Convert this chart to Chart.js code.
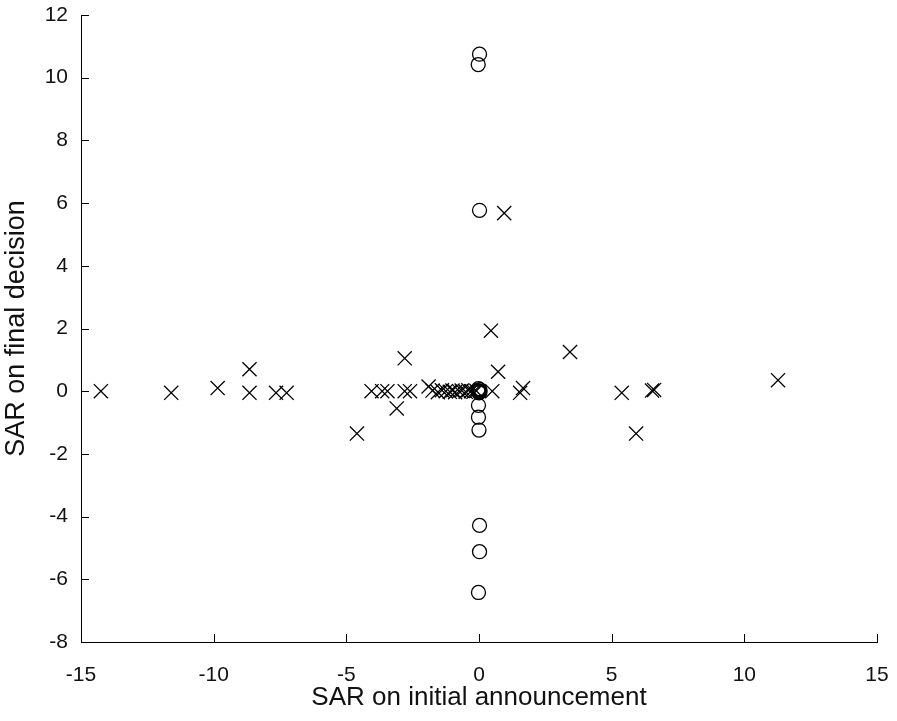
<!DOCTYPE html>
<html>
  <head>
    <title>SAR scatter</title>
    <script src="https://cdn.jsdelivr.net/npm/chart.js@4.4.0/dist/chart.umd.min.js"></script>
    <style>
      body { margin: 0; background: #fff; }
    </style>
  </head>
  <body>
    <canvas id="myChart" width="897" height="721"></canvas>
    <script>
      // crosses (x markers)
      const crossX = [-14.25, -11.6, -9.85, -8.65, -8.65, -7.65, -7.25,
        -4.6, -4.05, -3.65, -3.45, -3.1, -2.8, -2.8, -2.6, -1.9,
        -1.75, -1.55, -1.4, -1.25, -1.1, -1.0, -0.9, -0.75, -0.65, -0.5, -0.4, -0.3, -0.2, -0.1,
        0.45, 0.5, 0.72, 0.95, 1.55, 1.66, 3.43, 5.38, 5.92, 6.52, 6.6, 11.27];
      const crossY = [0.0, -0.05, 0.1, 0.7, -0.05, -0.05, -0.05,
        -1.35, 0.0, 0.0, 0.0, -0.55, 1.05, 0.0, 0.0, 0.15,
        0.02, -0.03, 0.03, 0.0, -0.02, 0.02, -0.03, 0.0, 0.02, -0.02, 0.03, 0.0, -0.02, 0.01,
        1.93, 0.0, 0.62, 5.68, -0.05, 0.1, 1.25, -0.05, -1.35, 0.02, 0.04, 0.35];

      // circles
      const circleX = [0.02, -0.03, 0.02, -0.02, 0.03, -0.04, 0.04, 0.0, -0.01, -0.02, -0.02, 0.0, 0.02, 0.02, -0.02];
      const circleY = [10.75, 10.42, 5.77, 0.08, 0.05, 0.02, -0.02, -0.05, 0.0, -0.45, -0.83, -1.24, -4.28, -5.12, -6.42];

      const xTicks = [-15, -10, -5, 0, 5, 10, 15];
      const yTicks = [-8, -6, -4, -2, 0, 2, 4, 6, 8, 10, 12];

      const toPoints = (xs, ys) => xs.map((x, i) => ({ x: x, y: ys[i] }));

      // tick marks pointing into the plot
      const innerTicks = {
        id: 'innerTicks',
        afterDraw(chart) {
          const ctx = chart.ctx;
          const area = chart.chartArea;
          const xs = chart.scales.x, ys = chart.scales.y;
          ctx.save();
          ctx.strokeStyle = '#000';
          ctx.lineWidth = 1;
          ctx.beginPath();
          xTicks.forEach(v => {
            const px = Math.round(xs.getPixelForValue(v)) + 0.5;
            ctx.moveTo(px, area.bottom);
            ctx.lineTo(px, area.bottom - 8);
          });
          yTicks.forEach(v => {
            const py = Math.round(ys.getPixelForValue(v)) + 0.5;
            ctx.moveTo(area.left, py);
            ctx.lineTo(area.left + 8, py);
          });
          ctx.stroke();
          ctx.restore();
        }
      };

      const ctx = document.getElementById('myChart').getContext('2d');
      const myChart = new Chart(ctx, {
        type: 'scatter',
        data: {
          datasets: [{
            label: 'initial',
            data: toPoints(crossX, crossY),
            pointStyle: 'crossRot',
            pointRadius: 10,
            borderColor: '#000',
            borderWidth: 1.3,
            backgroundColor: 'rgba(0,0,0,0)'
          }, {
            label: 'final',
            data: toPoints(circleX, circleY),
            pointStyle: 'circle',
            pointRadius: 7,
            borderColor: '#000',
            borderWidth: 1.3,
            backgroundColor: 'rgba(0,0,0,0)'
          }]
        },
        options: {
          responsive: false,
          animation: false,
          layout: { padding: { left: 0, right: 20, top: 15, bottom: 0 } },
          plugins: {
            legend: { display: false },
            tooltip: { enabled: false }
          },
          scales: {
            x: {
              type: 'linear',
              min: -15,
              max: 15,
              afterBuildTicks: s => { s.ticks = xTicks.map(v => ({ value: v })); },
              afterFit: s => { s.height = 79; s.paddingLeft = 0; s.paddingRight = 0; },
              grid: { display: false, drawTicks: false },
              border: { display: true, color: '#000', width: 1 },
              ticks: { color: '#111', padding: 21, maxRotation: 0, font: { family: 'Liberation Sans', size: 21 } },
              title: {
                display: true,
                text: 'SAR on initial announcement',
                color: '#111',
                padding: { top: 0, bottom: 8 },
                font: { family: 'Liberation Sans', size: 26 }
              }
            },
            y: {
              type: 'linear',
              min: -8,
              max: 12,
              afterBuildTicks: s => { s.ticks = yTicks.map(v => ({ value: v })); },
              afterFit: s => { s.width = 81; s.paddingTop = 0; s.paddingBottom = 0; },
              grid: { display: false, drawTicks: false },
              border: { display: true, color: '#000', width: 1 },
              ticks: { color: '#111', padding: 13, font: { family: 'Liberation Sans', size: 21 } },
              title: {
                display: true,
                text: 'SAR on final decision',
                color: '#111',
                padding: { top: 0, bottom: 0 },
                font: { family: 'Liberation Sans', size: 27 }
              }
            }
          }
        },
        plugins: [innerTicks]
      });
    </script>
  </body>
</html>
